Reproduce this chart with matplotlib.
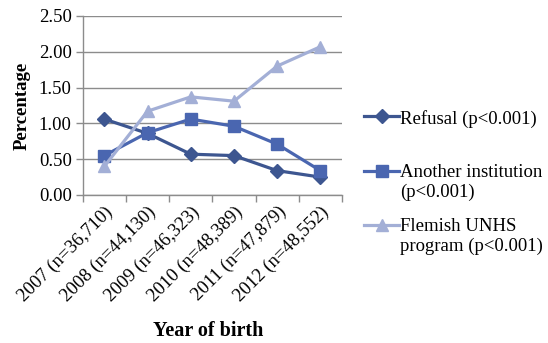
import matplotlib
matplotlib.use("Agg")
import matplotlib.pyplot as plt
from matplotlib.ticker import FixedLocator

plt.rcParams['font.family'] = ['Liberation Serif', 'DejaVu Serif']

years = ['2007 (n=36,710)', '2008 (n=44,130)', '2009 (n=46,323)',
         '2010 (n=48,389)', '2011 (n=47,879)', '2012 (n=48,552)']
refusal = [1.06, 0.86, 0.57, 0.55, 0.34, 0.25]
another = [0.55, 0.87, 1.06, 0.96, 0.71, 0.34]
flemish = [0.40, 1.17, 1.37, 1.31, 1.80, 2.07]

fig = plt.figure(figsize=(5.48, 3.43), dpi=100)
ax = fig.add_axes([0.151, 0.4315, 0.473, 0.522])

x = range(len(years))
l1, = ax.plot(x, refusal, color='#3d5690', lw=2.3, marker='D', ms=7,
              label='Refusal (p<0.001)\n')
l2, = ax.plot(x, another, color='#4a66b0', lw=2.3, marker='s', ms=8.5,
              label='Another institution\n(p<0.001)')
l3, = ax.plot(x, flemish, color='#a3afd6', lw=2.3, marker='^', ms=9,
              label='Flemish UNHS\nprogram (p<0.001)')

ax.set_xlim(-0.5, len(years) - 0.5)
ax.set_ylim(0, 2.5)
ax.set_yticks([0, 0.5, 1.0, 1.5, 2.0, 2.5])
ax.set_yticklabels(['%.2f' % v for v in ax.get_yticks()], fontsize=13.5)
ax.yaxis.grid(True, color='#8c8c8c', lw=1)
ax.set_axisbelow(True)

# category labels sit at the centres, tick marks at the boundaries
ax.set_xticks(list(x))
ax.set_xticklabels(years, rotation=45, ha='right', va='top',
                   rotation_mode='anchor', fontsize=13.5)
ax.tick_params(axis='x', length=0, pad=6)
ax.xaxis.set_minor_locator(FixedLocator([i - 0.5 for i in range(len(years) + 1)]))
ax.tick_params(axis='x', which='minor', length=5, color='#8c8c8c', width=1)
ax.tick_params(axis='y', length=5, color='#8c8c8c', width=1, pad=3)

for s in ['top', 'right']:
    ax.spines[s].set_visible(False)
for s in ['left', 'bottom']:
    ax.spines[s].set_color('#8c8c8c')
    ax.spines[s].set_linewidth(1)

ax.set_ylabel('Percentage', fontsize=13.5, fontweight='bold', labelpad=6)
ax.set_xlabel('Year of birth', fontsize=14.5, fontweight='bold')
ax.xaxis.set_label_coords(0.485, -0.705)

leg = fig.legend(handles=[l1, l2, l3], loc='upper left',
                 bbox_to_anchor=(0.664, 0.68), frameon=False, fontsize=13.5,
                 handlelength=1.9, handletextpad=0.05, labelspacing=0.9,
                 borderpad=0, borderaxespad=0)
# keep each marker level with the first line of its label
for row in leg._legend_handle_box.get_children()[0].get_children():
    row.align = 'top'

fig.savefig('out.png', dpi=100)
